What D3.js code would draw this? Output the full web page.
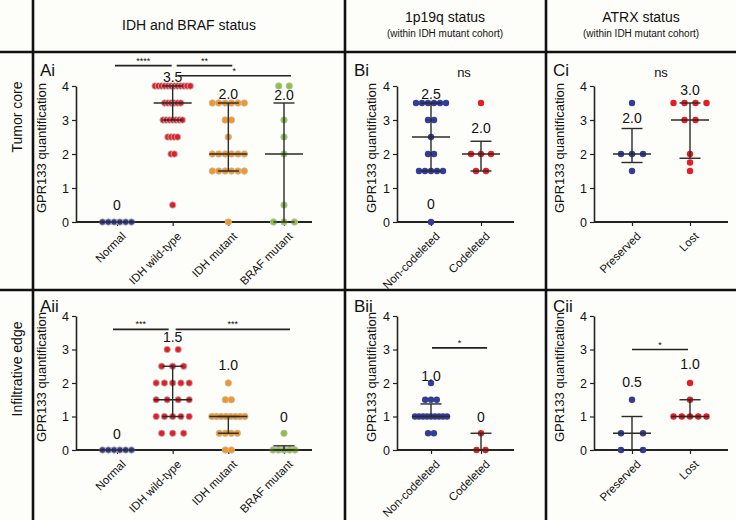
<!DOCTYPE html>
<html><head><meta charset="utf-8">
<script src="https://cdn.jsdelivr.net/npm/d3@7"></script>
<style>
html,body{margin:0;padding:0;background:#fdfdf9;}
svg{display:block;font-family:"Liberation Sans",Arial,Helvetica,sans-serif;}
</style></head>
<body><svg id="chart" width="736" height="520"></svg>
<script>
// ---------------- DATA ----------------
const rowLabels = ["Tumor core", "Infiltrative edge"];
const colTitles = ["IDH and BRAF status", "1p19q status", "ATRX status"];
const colSubtitles = ["", "(within IDH mutant cohort)", "(within IDH mutant cohort)"];
const colLetters = ["A", "B", "C"];
const rowNumerals = ["i", "ii"];
const yTicks = [0, 1, 2, 3, 4];
const yLabel = "GPR133 quantification";

const catsIDH = ["Normal", "IDH wild-type", "IDH mutant", "BRAF mutant"];
const cats1p19q = ["Non-codeleted", "Codeleted"];
const catsATRX = ["Preserved", "Lost"];

// Tumor core – IDH/BRAF
const coreNormal = [0, 0, 0, 0, 0, 0];
const coreIDHwt = [4, 4, 4, 4, 4, 4, 4, 4, 4, 4, 4, 4, 3.5, 3.5, 3.5, 3.5, 3.5, 3.5, 3, 3, 3, 3, 3, 3, 3, 2.5, 2.5, 2.5, 2.5, 2, 2, 0.5];
const coreIDHmut = [3.5, 3.5, 3.5, 3.5, 3.5, 3.5, 3, 3, 2.5, 2, 2, 2, 2, 2, 2, 1.5, 1.5, 1.5, 1.5, 1.5, 1.5, 0];
const coreBRAF = [4, 4, 3, 2.5, 2, 0.5, 0, 0, 0];
const coreIDHmedian = [0, 3.5, 2.0, 2.0];
const coreIDHq1 = [0, 3, 1.5, 0];
const coreIDHq3 = [0, 4, 3.5, 3.5];
const coreIDHlabels = ["0", "3.5", "2.0", "2.0"];

// Infiltrative edge – IDH/BRAF
const edgeNormal = [0, 0, 0, 0, 0, 0];
const edgeIDHwt = [3, 3, 2.5, 2.5, 2.5, 2, 2, 2, 2, 2, 1.5, 1.5, 1.5, 1.5, 1, 1, 1, 1, 1, 0.5, 0.5, 0.5];
const edgeIDHmut = [2, 1.5, 1.5, 1, 1, 1, 1, 1, 1, 1, 1, 0.5, 0.5, 0.5, 0.5, 0, 0];
const edgeBRAF = [0.5, 0, 0, 0, 0, 0];
const edgeIDHmedian = [0, 1.5, 1.0, 0];
const edgeIDHq1 = [0, 1, 0.5, 0];
const edgeIDHq3 = [0, 2.5, 1.0, 0.125];
const edgeIDHlabels = ["0", "1.5", "1.0", "0"];

// 1p19q
const core1p19qNon = [3.5, 3.5, 3.5, 3.5, 3.5, 3.5, 3, 3, 2.5, 2, 2, 1.5, 1.5, 1.5, 1.5, 1.5, 0];
const core1p19qCod = [3.5, 2, 2, 2, 1.5, 1.5];
const core1p19qMedian = [2.5, 2.0];
const core1p19qQ1 = [1.5, 1.5];
const core1p19qQ3 = [3.5, 2.375];
const core1p19qLabels = ["2.5", "2.0"];
const edge1p19qNon = [2, 1.5, 1.5, 1.5, 1, 1, 1, 1, 1, 1, 1, 1, 1, 0.5, 0.5];
const edge1p19qCod = [0.5, 0, 0];
const edge1p19qMedian = [1.0, 0];
const edge1p19qQ1 = [1.0, 0];
const edge1p19qQ3 = [1.375, 0.5];
const edge1p19qLabels = ["1.0", "0"];

// ATRX
const coreATRXpres = [3.5, 2, 2, 2, 1.5];
const coreATRXlost = [3.5, 3.5, 3.5, 3.5, 3, 3, 2, 1.75, 1.5];
const coreATRXmedian = [2.0, 3.0];
const coreATRXq1 = [1.75, 1.875];
const coreATRXq3 = [2.75, 3.5];
const coreATRXlabels = ["2.0", "3.0"];
const edgeATRXpres = [1.5, 0.5, 0.5, 0, 0];
const edgeATRXlost = [2, 1.5, 1, 1, 1, 1, 1];
const edgeATRXmedian = [0.5, 1.0];
const edgeATRXq1 = [0, 1.0];
const edgeATRXq3 = [1.0, 1.5];
const edgeATRXlabels = ["0.5", "1.0"];

// significance
const sigLabels = ["****", "**", "*", "***", "***", "ns", "*", "ns", "*"];

// ---------------- LAYOUT / STYLE ----------------
const COL = {blue: "#353c96", red: "#e51d24", orange: "#f7961e", green: "#8cc43f"};
const rows = [{y0: 222, y4: 86}, {y0: 450, y4: 316}];
const panelGeom = [
  {axisX: 76, x1: 117, x2: 284, end: 312, titleX: 42, labX: 40},
  {axisX: 397, x1: 431, x2: 481, end: 514, titleX: 372, labX: 354},
  {axisX: 594, x1: 632, x2: 690, end: 728, titleX: 560, labX: 553}
];

const panels = [
  {row: 0, col: 0, cats: catsIDH, groups: [coreNormal, coreIDHwt, coreIDHmut, coreBRAF],
   colors: [COL.blue, COL.red, COL.orange, COL.green], spacing: [5.8, 3.2, 6.4, 10.5], maxW: [33, 36, 33, 33], outline: true,
   med: coreIDHmedian, q1: coreIDHq1, q3: coreIDHq3, labels: coreIDHlabels, labelY: [0.5, 4.26, 3.78, 3.74],
   extra: [],
   sig: [{a: 0, b: 1, d1: -2, d2: -1, y: 4.6, t: sigLabels[0]}, {a: 1, b: 2, d1: 4, d2: 4, y: 4.6, t: sigLabels[1]}, {a: 1, b: 3, d1: 5, d2: 7, y: 4.3, t: sigLabels[2]}]},
  {row: 1, col: 0, cats: catsIDH, groups: [edgeNormal, edgeIDHwt, edgeIDHmut, edgeBRAF],
   colors: [COL.blue, COL.red, COL.orange, COL.green], spacing: [5.8, 11, 6, 5.5], maxW: [33, 33, 33, 33], outline: true,
   med: edgeIDHmedian, q1: edgeIDHq1, q3: edgeIDHq3, labels: edgeIDHlabels, labelY: [0.48, 3.38, 2.54, 0.98],
   extra: [],
   sig: [{a: 0, b: 1, d1: -4, d2: -4, y: 3.6, t: sigLabels[3]}, {a: 1, b: 3, d1: 3, d2: 6, y: 3.6, t: sigLabels[4]}]},
  {row: 0, col: 1, cats: cats1p19q, groups: [core1p19qNon, core1p19qCod],
   colors: [COL.blue, COL.red], spacing: [6, 10], maxW: [32, 33], outline: false,
   med: core1p19qMedian, q1: core1p19qQ1, q3: core1p19qQ3, labels: core1p19qLabels, labelY: [3.77, 2.77],
   extra: [{g: 0, y: 0.53, t: "0"}],
   sig: [{a: 0, b: 1, y: 4.4, t: sigLabels[5], noLine: true, dx: 8}]},
  {row: 1, col: 1, cats: cats1p19q, groups: [edge1p19qNon, edge1p19qCod],
   colors: [COL.blue, COL.red], spacing: [5.8, 9], maxW: [32, 33], outline: false,
   med: edge1p19qMedian, q1: edge1p19qQ1, q3: edge1p19qQ3, labels: edge1p19qLabels, labelY: [2.2, 1.0],
   extra: [],
   sig: [{a: 0, b: 1, d1: 1, d2: 6, y: 3.05, t: sigLabels[6]}]},
  {row: 0, col: 2, cats: catsATRX, groups: [coreATRXpres, coreATRXlost],
   colors: [COL.blue, COL.red], spacing: [11, 11], maxW: [33, 33], outline: false,
   med: coreATRXmedian, q1: coreATRXq1, q3: coreATRXq3, labels: coreATRXlabels, labelY: [3.05, 3.88],
   extra: [],
   sig: [{a: 0, b: 1, y: 4.4, t: sigLabels[7], noLine: true, dx: 0}]},
  {row: 1, col: 2, cats: catsATRX, groups: [edgeATRXpres, edgeATRXlost],
   colors: [COL.blue, COL.red], spacing: [22, 11], maxW: [33, 33], outline: false,
   med: edgeATRXmedian, q1: edgeATRXq1, q3: edgeATRXq3, labels: edgeATRXlabels, labelY: [2.04, 2.57],
   extra: [],
   sig: [{a: 0, b: 1, d1: 0, d2: -2, y: 3.0, t: sigLabels[8]}]}
];

// ---------------- DRAW ----------------
const svg = d3.select("#chart");
svg.append("rect").attr("width", 736).attr("height", 520).attr("fill", "#fdfdf9");

// grid lines
const grid = svg.append("g").attr("stroke", "#111").attr("stroke-width", 2.6);
[33, 345, 546].forEach(x => grid.append("line").attr("x1", x).attr("x2", x).attr("y1", 0).attr("y2", 520));
[52, 290].forEach(y => grid.append("line").attr("x1", 0).attr("x2", 736).attr("y1", y).attr("y2", y));

// column headers
const colCenters = [189, 445, 641];
colTitles.forEach((t, i) => {
  const sub = colSubtitles[i];
  svg.append("text").attr("x", colCenters[i]).attr("y", sub ? 22 : 30).attr("text-anchor", "middle")
    .attr("font-size", 14).attr("fill", "#111").text(t);
  if (sub) svg.append("text").attr("x", colCenters[i]).attr("y", 37).attr("text-anchor", "middle")
    .attr("font-size", 10).attr("fill", "#111").text(sub);
});
// row labels
[117, 369].forEach((cy, i) => {
  svg.append("text").attr("transform", `translate(22,${cy}) rotate(-90)`).attr("text-anchor", "middle")
    .attr("font-size", 14).attr("fill", "#111").text(rowLabels[i]);
});

panels.forEach(p => {
  const geo = panelGeom[p.col];
  const r = rows[p.row];
  const y = d3.scaleLinear().domain([0, 4]).range([r.y0, r.y4]);
  const x = d3.scalePoint().domain(p.cats).range([geo.x1, geo.x2]);
  const g = svg.append("g");

  // panel label
  g.append("text").attr("x", geo.labX).attr("y", p.row === 0 ? 76 : 312).attr("font-size", 17)
    .attr("fill", "#111").text(colLetters[p.col] + rowNumerals[p.row]);
  // y title
  g.append("text").attr("transform", `translate(${geo.titleX + 4},${(r.y0 + r.y4) / 2 - 6}) rotate(-90)`)
    .attr("text-anchor", "middle").attr("font-size", 13).attr("fill", "#111").text(yLabel);

  // y axis
  const ya = g.append("g").attr("transform", `translate(${geo.axisX},0)`)
    .call(d3.axisLeft(y).tickValues(yTicks).tickFormat(d3.format("d")).tickSize(4).tickSizeOuter(0));
  ya.select(".domain").attr("stroke", "#222").attr("stroke-width", 1.6);
  ya.selectAll(".tick line").attr("stroke", "#222").attr("stroke-width", 1.2);
  ya.selectAll(".tick text").attr("font-size", 12.5).attr("fill", "#111").attr("font-family", "Liberation Sans, Arial");

  // x axis
  const xa = g.append("g").attr("transform", `translate(0,${r.y0})`)
    .call(d3.axisBottom(x).tickSize(4).tickSizeOuter(0));
  xa.select(".domain").remove();
  xa.selectAll(".tick line").attr("stroke", "#222").attr("stroke-width", 1.2);
  xa.selectAll(".tick text").attr("font-size", 11.5).attr("fill", "#111").attr("font-family", "Liberation Sans, Arial")
    .attr("text-anchor", "end").attr("dx", 0).attr("dy", 0)
    .attr("transform", "translate(4,10) rotate(-45)");
  g.append("line").attr("x1", geo.axisX).attr("x2", geo.end).attr("y1", r.y0).attr("y2", r.y0)
    .attr("stroke", "#222").attr("stroke-width", 1.8);

  // dots
  p.groups.forEach((vals, gi) => {
    const cx = x(p.cats[gi]);
    const byVal = d3.group(vals, v => v);
    const pts = [];
    byVal.forEach((arr, v) => {
      const n = arr.length;
      const step = n > 1 ? Math.min(p.spacing[gi], p.maxW[gi] / (n - 1)) : 0;
      arr.forEach((_, k) => pts.push({v, dx: (k - (n - 1) / 2) * step}));
    });
    g.append("g").selectAll("circle").data(pts).join("circle")
      .attr("cx", d => cx + d.dx).attr("cy", d => y(d.v)).attr("r", 3.2)
      .attr("fill", p.colors[gi])
      .attr("stroke", p.outline ? "#b9b9b9" : "none").attr("stroke-width", 0.8);
  });

  // median & IQR
  p.groups.forEach((vals, gi) => {
    const cx = x(p.cats[gi]);
    const lg = g.append("g").attr("stroke", "#2a2a2a").attr("stroke-width", 1.4);
    if (p.q3[gi] > p.q1[gi]) {
      lg.append("line").attr("x1", cx).attr("x2", cx).attr("y1", y(p.q1[gi])).attr("y2", y(p.q3[gi]));
      [p.q1[gi], p.q3[gi]].forEach(q => lg.append("line").attr("x1", cx - 10.5).attr("x2", cx + 10.5)
        .attr("y1", y(q)).attr("y2", y(q)));
    }
    lg.append("line").attr("x1", cx - 19).attr("x2", cx + 19).attr("y1", y(p.med[gi])).attr("y2", y(p.med[gi]));
    g.append("text").attr("x", cx).attr("y", y(p.labelY[gi])).attr("dy", "0.36em").attr("text-anchor", "middle")
      .attr("font-size", 14).attr("fill", "#111").text(p.labels[gi]);
  });
  p.extra.forEach(e => {
    g.append("text").attr("x", x(p.cats[e.g])).attr("y", y(e.y)).attr("dy", "0.36em").attr("text-anchor", "middle")
      .attr("font-size", 14).attr("fill", "#111").text(e.t);
  });

  // significance
  p.sig.forEach(s => {
    if (s.noLine) {
      const mx = (x(p.cats[s.a]) + x(p.cats[s.b])) / 2 + s.dx;
      g.append("text").attr("x", mx).attr("y", y(s.y)).attr("dy", "0.36em").attr("text-anchor", "middle")
        .attr("font-size", 13).attr("fill", "#111").text(s.t);
    } else {
      const xa1 = x(p.cats[s.a]) + s.d1, xa2 = x(p.cats[s.b]) + s.d2;
      g.append("line").attr("x1", xa1).attr("x2", xa2).attr("y1", y(s.y)).attr("y2", y(s.y))
        .attr("stroke", "#222").attr("stroke-width", 1.6);
      g.append("text").attr("x", (xa1 + xa2) / 2).attr("y", y(s.y) - 2).attr("text-anchor", "middle")
        .attr("font-size", 9).attr("fill", "#111").text(s.t);
    }
  });
});
</script></body></html>
